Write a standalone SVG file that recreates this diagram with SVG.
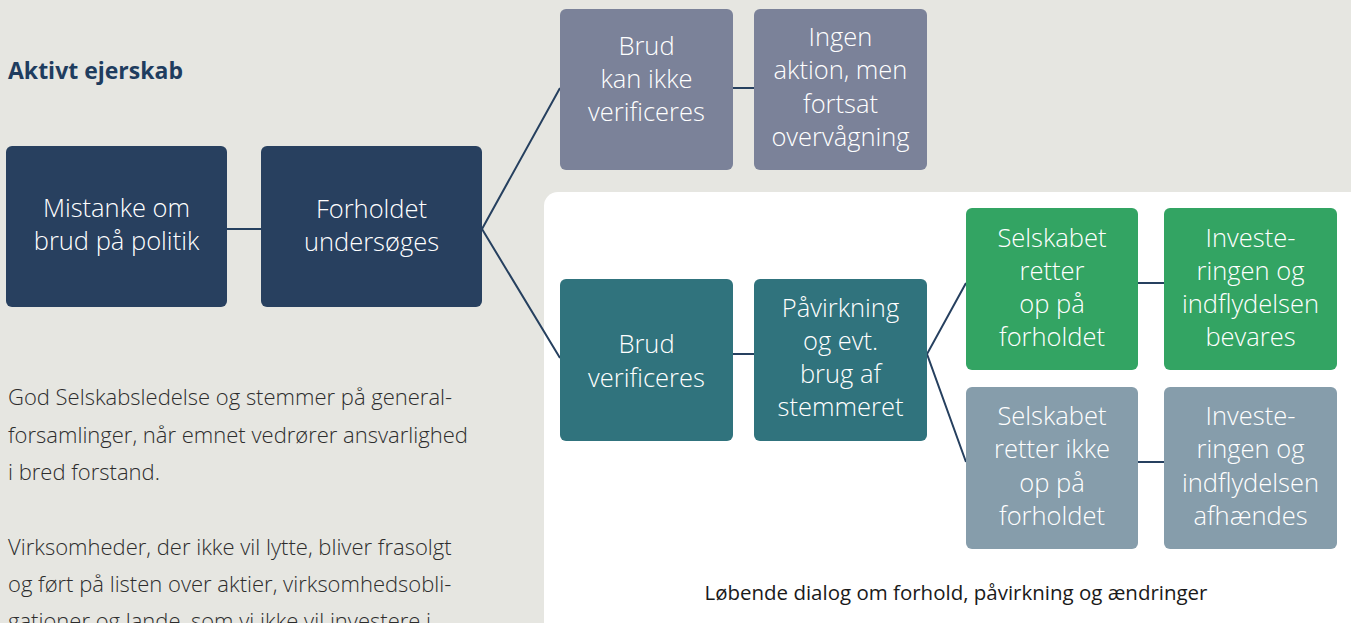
<svg xmlns="http://www.w3.org/2000/svg" width="1351" height="623" viewBox="0 0 1351 623">
<style>
.bg{fill:#e6e6e1}
.box{stroke:none}
.navy{fill:#28405f}
.slate{fill:#7b8299}
.teal{fill:#30737d}
.green{fill:#33a463}
.grey{fill:#869dab}
.t{font-family:"Open Sans","Liberation Sans",sans-serif;font-size:25.5px;font-weight:300;fill:#ffffff;text-anchor:middle}
.c{font-family:"Open Sans","Liberation Sans",sans-serif;font-size:25.5px;font-weight:300;fill:#ffffff;text-anchor:middle}
.body{font-family:"Open Sans","Liberation Sans",sans-serif;font-size:22px;font-weight:300;fill:#2d2d2d}
.title{font-family:"Open Sans","Liberation Sans",sans-serif;font-size:23px;font-weight:700;fill:#1f3d5f}
.cap{font-family:"Open Sans","Liberation Sans",sans-serif;font-size:20px;fill:#1a1a1a;text-anchor:middle}
.ln{stroke:#26405f;stroke-width:2;fill:none}
</style>
<rect class="bg" x="0" y="0" width="1351" height="623"/>
<rect x="544" y="192" width="830" height="460" rx="14" fill="#ffffff"/>
<text class="title" x="8" y="79">Aktivt ejerskab</text>
<g id="bodytext">
<text class="body" x="8" y="405">God Selskabsledelse og stemmer på general-</text>
<text class="body" x="8" y="443">forsamlinger, når emnet vedrører ansvarlighed</text>
<text class="body" x="8" y="480">i bred forstand.</text>
<text class="body" x="8" y="555">Virksomheder, der ikke vil lytte, bliver frasolgt</text>
<text class="body" x="8" y="592">og ført på listen over aktier, virksomhedsobli-</text>
<text class="body" x="8" y="629">gationer og lande, som vi ikke vil investere i.</text>
</g>
<g id="connectors">
<line class="ln" x1="227" y1="229" x2="261" y2="229"/>
<polyline class="ln" points="560,88 482,229 560,358"/>
<line class="ln" x1="733" y1="88" x2="754" y2="88"/>
<line class="ln" x1="733" y1="354" x2="754" y2="354"/>
<polyline class="ln" points="966,283 927,354 966,462"/>
<line class="ln" x1="1138" y1="283" x2="1164" y2="283"/>
<line class="ln" x1="1138" y1="462" x2="1164" y2="462"/>
</g>
<g id="n1"><rect class="box navy" x="6" y="146" width="221" height="161" rx="6"/>
<text class="t" x="116.5" y="217">Mistanke om</text><text class="t" x="116.5" y="250">brud på politik</text></g>
<g id="n2"><rect class="box navy" x="261" y="146" width="221" height="161" rx="6"/>
<text class="t" x="371.5" y="218">Forholdet</text><text class="t" x="371.5" y="251">undersøges</text></g>
<g id="n3"><rect class="box slate" x="560" y="9" width="173" height="161" rx="6"/>
<text class="t" x="646.5" y="55">Brud</text><text class="t" x="646.5" y="88">kan ikke</text><text class="t" x="646.5" y="121">verificeres</text></g>
<g id="n4"><rect class="box slate" x="754" y="9" width="173" height="161" rx="6"/>
<text class="t" x="840.5" y="46">Ingen</text><text class="t" x="840.5" y="79">aktion, men</text><text class="t" x="840.5" y="113">fortsat</text><text class="t" x="840.5" y="146">overvågning</text></g>
<g id="n5"><rect class="box teal" x="560" y="279" width="173" height="162" rx="6"/>
<text class="t" x="646.5" y="353">Brud</text><text class="t" x="646.5" y="387">verificeres</text></g>
<g id="n6"><rect class="box teal" x="754" y="279" width="173" height="162" rx="6"/>
<text class="t" x="840.5" y="317">Påvirkning</text><text class="t" x="840.5" y="350">og evt.</text><text class="t" x="840.5" y="383">brug af</text><text class="t" x="840.5" y="416">stemmeret</text></g>
<g id="n7"><rect class="box green" x="966" y="208" width="172" height="162" rx="6"/>
<text class="c" x="1052" y="247">Selskabet</text><text class="c" x="1052" y="280">retter</text><text class="c" x="1052" y="313">op på</text><text class="c" x="1052" y="346">forholdet</text></g>
<g id="n8"><rect class="box green" x="1164" y="208" width="173" height="162" rx="6"/>
<text class="c" x="1250.5" y="247">Investe-</text><text class="c" x="1250.5" y="280">ringen og</text><text class="c" x="1250.5" y="313">indflydelsen</text><text class="c" x="1250.5" y="346">bevares</text></g>
<g id="n9"><rect class="box grey" x="966" y="387" width="172" height="162" rx="6"/>
<text class="c" x="1052" y="425">Selskabet</text><text class="c" x="1052" y="458">retter ikke</text><text class="c" x="1052" y="492">op på</text><text class="c" x="1052" y="525">forholdet</text></g>
<g id="n10"><rect class="box grey" x="1164" y="387" width="173" height="162" rx="6"/>
<text class="c" x="1250.5" y="425">Investe-</text><text class="c" x="1250.5" y="458">ringen og</text><text class="c" x="1250.5" y="492">indflydelsen</text><text class="c" x="1250.5" y="525">afhændes</text></g>
<text class="cap" x="956" y="600" textLength="503" lengthAdjust="spacingAndGlyphs">Løbende dialog om forhold, påvirkning og ændringer</text>
</svg>
